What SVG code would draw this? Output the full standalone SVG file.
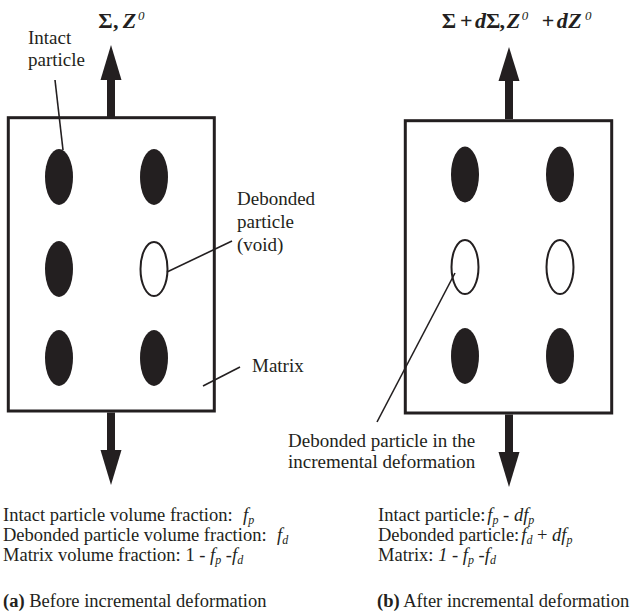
<svg xmlns="http://www.w3.org/2000/svg" width="639" height="613" viewBox="0 0 639 613">
<style>
  text { font-family: "Liberation Serif", "Times New Roman", serif; fill: #231f20; }
  .lbl { font-size: 19px; }
  .txt { font-size: 18.5px; }
  .title { font-size: 22px; font-weight: bold; }
  .bi { font-style: italic; font-weight: bold; }
  .sup { font-size: 13px; font-style: italic; font-weight: normal; }
  .it { font-style: italic; }
  .sub { font-size: 12px; font-style: italic; }
  .box { fill: #ffffff; stroke: #231f20; stroke-width: 3; }
  .solid { fill: #231f20; }
  .void { fill: #ffffff; stroke: #231f20; stroke-width: 2; }
  .leader { stroke: #231f20; stroke-width: 1.6; fill: none; }
  .shaft { fill: #231f20; }
</style>
<rect x="0" y="0" width="639" height="613" fill="#ffffff"/>

<g id="panel-a">
  <rect class="box" x="8.3" y="117.7" width="206" height="293.3"/>
  <ellipse class="solid" cx="59" cy="177" rx="14" ry="28"/>
  <ellipse class="solid" cx="154" cy="177" rx="14" ry="28"/>
  <ellipse class="solid" cx="59" cy="269" rx="14" ry="28"/>
  <ellipse class="void" cx="154" cy="269" rx="13.5" ry="27"/>
  <ellipse class="solid" cx="59" cy="358" rx="14" ry="28"/>
  <ellipse class="solid" cx="154" cy="358" rx="14" ry="28"/>
</g>

<g id="panel-b">
  <rect class="box" x="405.3" y="120.7" width="206.4" height="292.3"/>
  <ellipse class="solid" cx="465" cy="174.5" rx="14" ry="28"/>
  <ellipse class="solid" cx="560" cy="174.5" rx="14" ry="28"/>
  <ellipse class="void" cx="465" cy="267" rx="13.5" ry="27"/>
  <ellipse class="void" cx="560" cy="267" rx="13.5" ry="27"/>
  <ellipse class="solid" cx="465" cy="356" rx="14" ry="28"/>
  <ellipse class="solid" cx="560" cy="356" rx="14" ry="28"/>
</g>

<g id="connectors">
  <!-- load arrows panel (a) -->
  <rect class="shaft" x="107" y="79" width="8" height="38"/>
  <polygon class="shaft" points="100.5,80 121.5,80 111,45"/>
  <rect class="shaft" x="107" y="412.5" width="8" height="38.5"/>
  <polygon class="shaft" points="100.5,450 121.5,450 111,485"/>
  <!-- load arrows panel (b) -->
  <rect class="shaft" x="505" y="80" width="8" height="39"/>
  <polygon class="shaft" points="498.5,81 519.5,81 509,47"/>
  <rect class="shaft" x="505" y="414.5" width="8" height="38.5"/>
  <polygon class="shaft" points="498.5,452 519.5,452 509,487"/>
  <!-- leader lines -->
  <line class="leader" x1="55" y1="80" x2="63" y2="150"/>
  <line class="leader" x1="167" y1="272" x2="232" y2="241"/>
  <line class="leader" x1="203" y1="386" x2="240" y2="367"/>
  <line class="leader" x1="455" y1="273" x2="377" y2="422"/>
</g>

<g id="title-a">
  <text class="title" y="28"><tspan x="98.3">Σ</tspan><tspan x="113">,</tspan><tspan x="122.7" class="bi">Z</tspan><tspan x="138" y="20" class="sup">0</tspan></text>
</g>
<g id="title-b">
  <text class="title" y="28"><tspan x="441.7">Σ</tspan><tspan x="460">+</tspan><tspan x="475" class="bi">d</tspan><tspan x="486">Σ</tspan><tspan x="499.5">,</tspan><tspan x="506.7" class="bi">Z</tspan><tspan x="521.7" y="20" class="sup">0</tspan><tspan x="541.7" y="28">+</tspan><tspan x="556.7" class="bi">d</tspan><tspan x="568.3" class="bi">Z</tspan><tspan x="585" y="20" class="sup">0</tspan></text>
</g>

<g id="label-intact">
  <text class="lbl" x="28" y="44">Intact</text>
  <text class="lbl" x="28" y="66">particle</text>
</g>
<g id="label-debonded">
  <text class="lbl" x="237" y="205">Debonded</text>
  <text class="lbl" x="237" y="228">particle</text>
  <text class="lbl" x="237" y="251">(void)</text>
</g>
<g id="label-matrix">
  <text class="lbl" x="252" y="372">Matrix</text>
</g>
<g id="label-debonded-incr">
  <text class="lbl" x="288" y="447">Debonded particle in the</text>
  <text class="lbl" x="288" y="468">incremental deformation</text>
</g>

<g id="legend-a">
  <text class="txt" x="3" y="521">Intact particle volume fraction:<tspan x="243" class="it">f</tspan><tspan class="sub" dy="3">p</tspan></text>
  <text class="txt" x="3" y="541">Debonded particle volume fraction:<tspan x="277" class="it">f</tspan><tspan class="sub" dy="3">d</tspan></text>
  <text class="txt" x="3" y="561">Matrix volume fraction: 1 - <tspan class="it">f</tspan><tspan class="sub" dy="3">p</tspan><tspan dy="-3"> -</tspan><tspan class="it">f</tspan><tspan class="sub" dy="3">d</tspan></text>
  <text class="txt" x="3" y="607"><tspan font-weight="bold">(a)</tspan> Before incremental deformation</text>
</g>
<g id="legend-b">
  <text class="txt" x="378" y="521">Intact particle:<tspan class="it" dx="2">f</tspan><tspan class="sub" dy="3">p</tspan><tspan dy="-3"> - </tspan><tspan class="it">df</tspan><tspan class="sub" dy="3">p</tspan></text>
  <text class="txt" x="378" y="541">Debonded particle:<tspan class="it" dx="2">f</tspan><tspan class="sub" dy="3">d</tspan><tspan dy="-3"> + </tspan><tspan class="it">df</tspan><tspan class="sub" dy="3">p</tspan></text>
  <text class="txt" x="378" y="561">Matrix: <tspan class="it">1</tspan> - <tspan class="it">f</tspan><tspan class="sub" dy="3">p</tspan><tspan dy="-3"> -</tspan><tspan class="it">f</tspan><tspan class="sub" dy="3">d</tspan></text>
  <text class="txt" x="377" y="607"><tspan font-weight="bold">(b)</tspan> After incremental deformation</text>
</g>
</svg>
